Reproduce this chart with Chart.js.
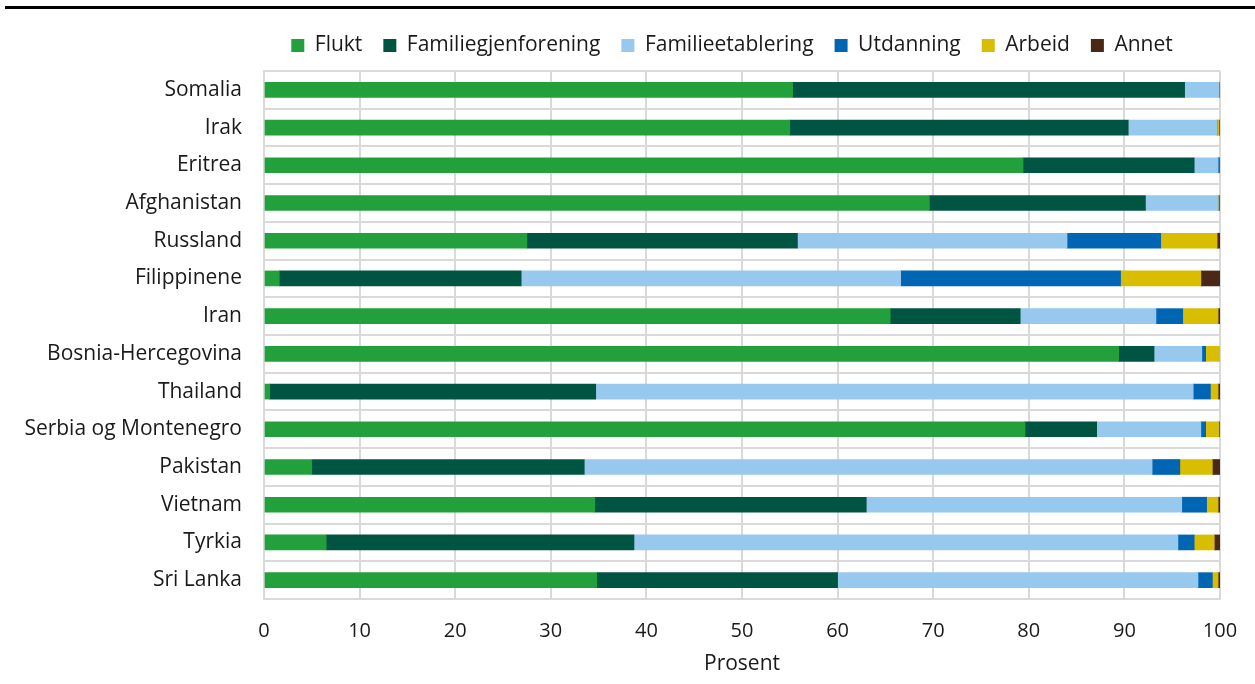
<!DOCTYPE html>
<html lang="no">
<head>
<meta charset="utf-8">
<title>Innvandringsgrunn etter land</title>
<script src="https://cdn.jsdelivr.net/npm/chart.js@4.4.1/dist/chart.umd.min.js"></script>
<style>
    html, body { margin: 0; padding: 0; background: #fff; }
    .boks { position: absolute; left: 0; top: 0; width: 1255px; height: 684px; }
    .toppstrek { position: absolute; left: 5px; right: 0; top: 6px; height: 3px; background: #000; }
</style>
</head>
<body>
<div class="boks"><canvas id="myChart" width="1255" height="684"></canvas></div>
<div class="toppstrek"></div>
<script>
// Data lest av figuren (prosent)
var land = ['Somalia', 'Irak', 'Eritrea', 'Afghanistan', 'Russland', 'Filippinene', 'Iran',
    'Bosnia-Hercegovina', 'Thailand', 'Serbia og Montenegro', 'Pakistan', 'Vietnam', 'Tyrkia', 'Sri Lanka'];

var flukt = [55.3, 55.0, 79.4, 69.6, 27.5, 1.6, 65.5, 89.4, 0.6, 79.6, 5.0, 34.6, 6.5, 34.8];
var familiegjenforening = [41.0, 35.4, 17.9, 22.6, 28.3, 25.3, 13.6, 3.7, 34.1, 7.5, 28.5, 28.4, 32.2, 25.2];
var familieetablering = [3.6, 9.3, 2.5, 7.6, 28.2, 39.7, 14.2, 5.0, 62.5, 10.9, 59.4, 33.0, 56.9, 37.7];
var utdanning = [0.05, 0, 0.1, 0, 9.8, 23.0, 2.8, 0.4, 1.8, 0.5, 2.9, 2.6, 1.7, 1.5];
var arbeid = [0, 0.2, 0, 0.1, 5.9, 8.4, 3.7, 1.5, 0.8, 1.4, 3.4, 1.2, 2.1, 0.6];
var annet = [0.05, 0.1, 0.1, 0.1, 0.3, 2.0, 0.2, 0, 0.2, 0.1, 0.8, 0.2, 0.6, 0.2];

var xTicks = [0, 10, 20, 30, 40, 50, 60, 70, 80, 90, 100];

var grid = '#d9d9d9';
var tekst = '#1a1a1a';

Chart.defaults.font.family = '"Open Sans", sans-serif';
Chart.defaults.font.size = 21;
Chart.defaults.color = tekst;

function serie(navn, verdier, farge) {
    return {
        label: navn,
        data: verdier,
        backgroundColor: farge,
        borderWidth: 0,
        barThickness: 15
    };
}

// Legenden: fast høyde og flyttet litt mot høyre
var legendeFix = {
    id: 'legendeFix',
    afterInit: function (chart) {
        var legend = chart.legend;
        var fit = legend.fit;
        legend.fit = function () {
            fit.call(this);
            this.height = 57;
        };
    },
    afterLayout: function (chart) {
        chart.legend.left += 122;
        chart.legend.right += 122;
    }
};

var ctx = document.getElementById('myChart').getContext('2d');
var myChart = new Chart(ctx, {
    type: 'bar',
    data: {
        labels: land,
        datasets: [
            serie('Flukt', flukt, '#22a03b'),
            serie('Familiegjenforening', familiegjenforening, '#005542'),
            serie('Familieetablering', familieetablering, '#97c8ed'),
            serie('Utdanning', utdanning, '#0065b2'),
            serie('Arbeid', arbeid, '#d8bd00'),
            serie('Annet', annet, '#4a2816')
        ]
    },
    options: {
        indexAxis: 'y',
        responsive: false,
        animation: false,
        layout: {
            padding: { top: 14, right: 35, bottom: 0, left: 0 }
        },
        plugins: {
            legend: {
                position: 'top',
                labels: {
                    boxWidth: 13,
                    boxHeight: 13,
                    padding: 21,
                    color: tekst
                }
            },
            tooltip: { enabled: false }
        },
        scales: {
            x: {
                stacked: true,
                min: 0,
                max: 100,
                afterBuildTicks: function (scale) {
                    scale.ticks = xTicks.map(function (v) { return { value: v }; });
                },
                afterFit: function (scale) {
                    scale.height = 85;
                    // ingen ekstra plass for "100", høyrekanten styres av layout.padding
                    scale.paddingLeft = 0;
                    scale.paddingRight = 0;
                },
                grid: {
                    color: grid,
                    lineWidth: 2,
                    drawTicks: false
                },
                border: { color: grid, width: 2 },
                ticks: { padding: 20, color: tekst, font: { size: 20 } },
                title: {
                    display: true,
                    text: 'Prosent',
                    color: tekst,
                    padding: { top: 7, bottom: 7 }
                }
            },
            y: {
                stacked: true,
                afterFit: function (scale) {
                    scale.width = 264;
                },
                grid: {
                    color: grid,
                    lineWidth: 2,
                    drawTicks: false
                },
                border: { color: grid, width: 2 },
                ticks: { padding: 22, color: tekst }
            }
        }
    },
    plugins: [legendeFix]
});
</script>
</body>
</html>
